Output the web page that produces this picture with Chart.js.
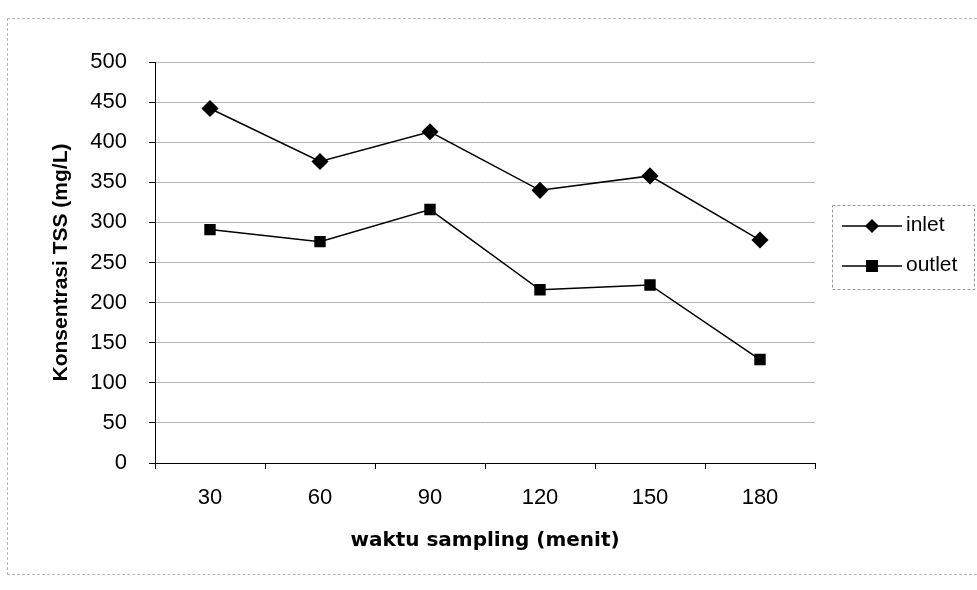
<!DOCTYPE html>
<html>
<head>
<meta charset="utf-8">
<script src="https://cdn.jsdelivr.net/npm/chart.js@4/dist/chart.umd.min.js"></script>
<style>
  html, body { margin: 0; padding: 0; background: #fff; }
  #wrap { position: relative; width: 977px; height: 590px; overflow: hidden; }
  #frame { position: absolute; left: 7px; top: 18px; width: 990px; height: 557px; border: 1px dashed #b8b8b8; box-sizing: border-box; }
  canvas { position: absolute; left: 0; top: 0; }
</style>
</head>
<body>
<div id="wrap">
  <div id="frame"></div>
  <canvas id="tssChart" width="977" height="590"></canvas>
</div>
<script>
const waktu = ["30", "60", "90", "120", "150", "180"];
const inlet = [442, 376, 413, 340, 358, 278];
const outlet = [291, 276, 316, 216, 222, 129];
const seriesNames = ["inlet", "outlet"];
const yTitle = "Konsentrasi TSS (mg/L)";
const xTitle = "waktu sampling (menit)";

const tssChart = document.querySelector("#tssChart");
const fontFamily = "'Liberation Sans', Arial, sans-serif";

// legend box with line + marker, like the spreadsheet one
const boxLegend = {
  id: "boxLegend",
  afterDraw: (chart) => {
    const ctx = chart.ctx;
    ctx.save();
    ctx.strokeStyle = "#9a9a9a";
    ctx.lineWidth = 1;
    ctx.setLineDash([3, 2]);
    ctx.strokeRect(832.5, 205.5, 142, 84);
    ctx.setLineDash([]);
    chart.data.datasets.forEach((ds, i) => {
      const y = 226 + i * 40;
      ctx.strokeStyle = "#000";
      ctx.lineWidth = 1.5;
      ctx.beginPath();
      ctx.moveTo(842, y);
      ctx.lineTo(902, y);
      ctx.stroke();
      ctx.fillStyle = "#000";
      ctx.beginPath();
      if (ds.pointStyle === "rectRot") {
        ctx.moveTo(872, y - 7);
        ctx.lineTo(879, y);
        ctx.lineTo(872, y + 7);
        ctx.lineTo(865, y);
      } else {
        ctx.rect(866, y - 6, 12, 12);
      }
      ctx.fill();
      ctx.font = "21px " + fontFamily;
      ctx.textBaseline = "middle";
      ctx.textAlign = "left";
      ctx.fillText(ds.label, 906, y - 1);
    });
    ctx.restore();
  },
};

const chart = new Chart(tssChart, {
  type: "line",
  data: {
    labels: waktu,
    datasets: [
      {
        label: seriesNames[0],
        data: inlet,
        borderColor: "#000",
        backgroundColor: "#000",
        borderWidth: 1.5,
        pointStyle: "rectRot",
        pointRadius: 7.5,
        pointHoverRadius: 7.5,
        tension: 0,
      },
      {
        label: seriesNames[1],
        data: outlet,
        borderColor: "#000",
        backgroundColor: "#000",
        borderWidth: 1.5,
        pointStyle: "rect",
        pointRadius: 7,
        pointHoverRadius: 7,
        tension: 0,
      },
    ],
  },
  options: {
    responsive: false,
    animation: false,
    layout: { padding: { top: 62, right: 162, left: 0, bottom: 0 } },
    plugins: {
      legend: { display: false },
      tooltip: { enabled: false },
    },
    scales: {
      x: {
        offset: true,
        grid: {
          display: true,
          drawOnChartArea: false,
          offset: true,
          color: "#000",
          tickLength: 6,
        },
        border: { color: "#000", width: 1 },
        ticks: {
          color: "#000",
          font: { family: fontFamily, size: 22 },
          padding: 16,
        },
        title: {
          display: true,
          text: xTitle,
          color: "#000",
          font: { family: "'DejaVu Sans', sans-serif", size: 20, weight: "bold" },
          padding: { top: 0, bottom: 37 },
        },
        afterFit: (scale) => {
          scale.height = 127;
        },
      },
      y: {
        min: 0,
        max: 500,
        grid: {
          color: "#b4b4b4",
          tickLength: 6,
          tickColor: "#000",
        },
        border: { color: "#000", width: 1 },
        ticks: {
          stepSize: 50,
          color: "#000",
          font: { family: fontFamily, size: 22 },
          padding: 22,
        },
        title: {
          display: true,
          text: yTitle,
          color: "#000",
          font: { family: fontFamily, size: 21, weight: "bold" },
          padding: { top: 49 },
        },
        afterFit: (scale) => {
          scale.width = 155;
        },
      },
    },
  },
  plugins: [boxLegend],
});
</script>
</body>
</html>
